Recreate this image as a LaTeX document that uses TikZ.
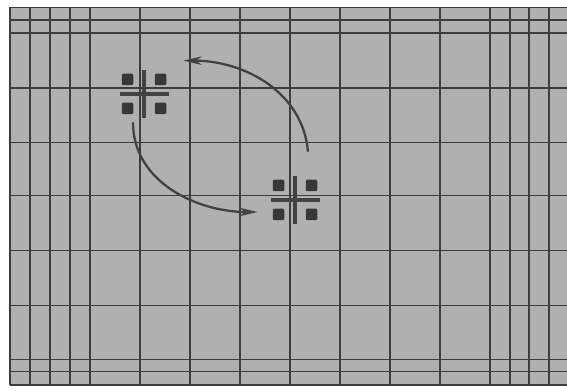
\documentclass[tikz,border=0pt]{standalone}
\usepackage{tikz}
\usetikzlibrary{arrows.meta,positioning,calc}

\begin{document}
\begin{tikzpicture}[
    x=0.02cm, y=-0.02cm,
    sheet/.style={fill=black!31},
    gridline/.style={draw=black!76, line width=0.85pt},
    symfill/.style={fill=black!78, rounded corners=0.6pt},
    symbar/.style={draw=black!74, line width=2pt},
    cellsym/.style={inner sep=0pt, minimum width=1.3cm, minimum height=1.2cm,
        path picture={
            \coordinate (c) at (path picture bounding box.center);
            \foreach \dx/\dy in {-16.5/-14.5, 16.5/-14.5, -16.5/14.5, 16.5/14.5}
                \fill[symfill] ($(c)+(\dx-5.75,\dy-5.75)$) rectangle +(11.5,11.5);
            \draw[symbar] ($(c)+(0,-24)$) -- +(0,48);
            \draw[symbar] ($(c)+(-24.5,0)$) -- +(49,0);
        }},
    arr/.style={draw=black!74, line width=1.3pt, -{Stealth[length=3.7mm, width=1.7mm]}}
]
\useasboundingbox (0,0) rectangle (567,391);

% paper and grid
\fill[sheet] (10,7.5) rectangle (567,385);
\foreach \gx in {10,30,50,70,90,140,190,240,290,340,390,440,490,510,529,549}
    \draw[gridline] (\gx,7.5) -- (\gx,385);
\foreach \gy in {7.5,20,33,88,142.5,195.5,250.5,305.5,359.5,371.5,385}
    \draw[gridline] (10,\gy) -- (567,\gy);

% the two cells
\node[cellsym] (upper) at (144,94) {};
\node[cellsym] (lower) at (295,200) {};

\draw[arr] ([xshift=-0.22cm, yshift=0.04cm]upper.south) to[out=-90, in=180] ([xshift=-0.09cm, yshift=-0.24cm]lower.west);
\draw[arr] ([xshift=0.26cm, yshift=0.36cm]lower.north) to[out=95, in=0] ([xshift=0.13cm, yshift=0.06cm]upper.north east);

\end{tikzpicture}
\end{document}
